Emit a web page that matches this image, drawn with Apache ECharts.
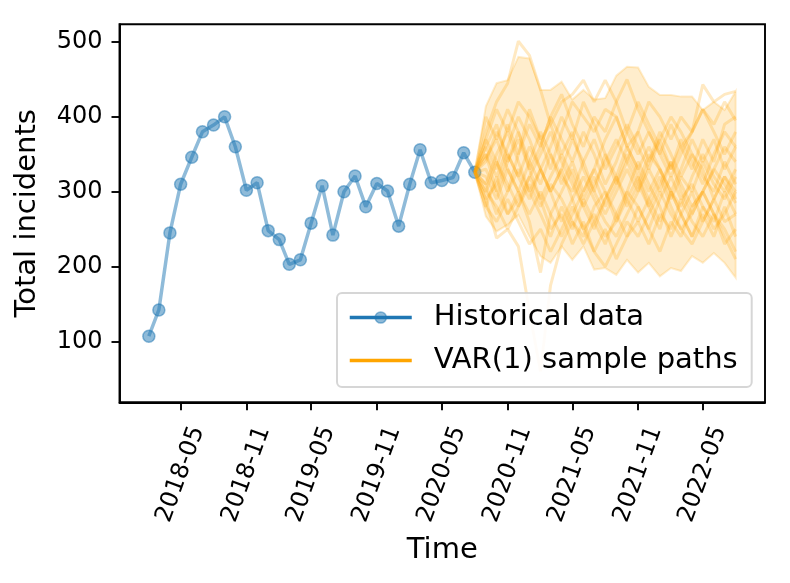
<!DOCTYPE html>
<html>
<head>
<meta charset="utf-8">
<script src="https://cdn.jsdelivr.net/npm/echarts@6/dist/echarts.min.js"></script>
<style>
  html, body { margin: 0; padding: 0; background: #fff; }
  #chart { width: 790px; height: 583px; }
</style>
</head>
<body>
<div id="chart"></div>
<script>
// Monthly incident totals, then VAR(1) simulated paths from the last observed month.

const histMonths = [
  '2018-02', '2018-03', '2018-04', '2018-05', '2018-06', '2018-07', '2018-08', '2018-09',
  '2018-10', '2018-11', '2018-12', '2019-01', '2019-02', '2019-03', '2019-04', '2019-05',
  '2019-06', '2019-07', '2019-08', '2019-09', '2019-10', '2019-11', '2019-12', '2020-01',
  '2020-02', '2020-03', '2020-04', '2020-05', '2020-06', '2020-07', '2020-08',
];
const histValues = [
  107, 142, 245, 310, 346, 380, 389, 400, 360, 302, 312, 248, 236, 203, 209, 258,
  308, 242, 300, 321, 280, 311, 301, 254, 310, 356, 312, 315, 319, 352, 326,
];

const pathMonths = [
  '2020-08', '2020-09', '2020-10', '2020-11', '2020-12', '2021-01', '2021-02', '2021-03',
  '2021-04', '2021-05', '2021-06', '2021-07', '2021-08', '2021-09', '2021-10', '2021-11',
  '2021-12', '2022-01', '2022-02', '2022-03', '2022-04', '2022-05', '2022-06', '2022-07',
  '2022-08',
];
const bandUpper = [
  326, 414, 445, 449, 480, 478, 436, 436, 447, 423, 436, 423, 425,
  455, 467, 466, 440, 429, 429, 427, 427, 409, 420, 409, 434,
];
const bandLower = [
  326, 267, 247, 256, 269, 240, 214, 205, 227, 209, 227, 196, 198,
  189, 209, 192, 205, 187, 198, 194, 214, 205, 218, 205, 185,
];

const path01 = [326, 380, 420, 445, 501, 482, 436, 390, 350, 380, 330, 300, 350, 320, 280, 310, 350, 330, 290, 320, 300, 340, 310, 290, 320];
const path02 = [326, 290, 238, 250, 227, 140, 60, 175, 230, 260, 240, 280, 300, 260, 290, 320, 280, 250, 300, 270, 240, 280, 260, 300, 270];
const path03 = [326, 360, 330, 390, 350, 410, 370, 330, 380, 420, 400, 380, 410, 400, 360, 380, 340, 370, 330, 360, 380, 443, 420, 430, 434];
const path04 = [326, 300, 340, 310, 280, 320, 290, 250, 270, 230, 260, 220, 250, 210, 240, 260, 230, 270, 250, 290, 260, 240, 270, 230, 250];
const path05 = [326, 350, 300, 340, 380, 330, 360, 400, 370, 340, 380, 350, 310, 340, 380, 420, 390, 360, 330, 370, 340, 310, 350, 380, 360];
const path06 = [326, 280, 320, 270, 300, 260, 192, 270, 300, 330, 290, 320, 280, 310, 350, 320, 290, 260, 300, 280, 320, 350, 320, 300, 330];
const path07 = [326, 400, 370, 410, 380, 340, 310, 350, 320, 300, 340, 370, 330, 360, 390, 360, 330, 370, 400, 380, 350, 320, 300, 340, 310];
const path08 = [326, 310, 270, 300, 330, 300, 270, 240, 280, 250, 290, 260, 230, 270, 300, 280, 250, 220, 260, 240, 280, 300, 270, 250, 220];
const path09 = [326, 370, 340, 300, 350, 390, 360, 400, 430, 390, 360, 400, 380, 420, 450, 410, 380, 350, 390, 360, 330, 370, 340, 390, 400];
const path10 = [326, 340, 380, 350, 320, 290, 330, 300, 260, 290, 320, 290, 260, 240, 270, 300, 330, 300, 340, 310, 280, 300, 330, 360, 340];
const path11 = [326, 290, 310, 350, 320, 360, 330, 300, 330, 370, 340, 300, 270, 300, 330, 300, 340, 380, 350, 320, 350, 330, 290, 320, 290];
const path12 = [326, 360, 390, 340, 370, 330, 290, 320, 350, 320, 280, 250, 290, 320, 290, 260, 290, 320, 280, 250, 270, 300, 270, 240, 210];
const path13 = [326, 330, 300, 270, 290, 320, 350, 380, 340, 310, 280, 310, 340, 370, 340, 310, 280, 310, 340, 300, 270, 300, 330, 310, 285];
const path14 = [326, 310, 350, 380, 340, 300, 330, 360, 400, 370, 420, 390, 350, 310, 340, 380, 420, 400, 370, 400, 380, 410, 380, 350, 380];
const path15 = [326, 350, 320, 360, 400, 370, 330, 300, 330, 290, 250, 270, 240, 260, 300, 340, 310, 280, 240, 270, 300, 260, 290, 320, 300];
const path16 = [326, 300, 280, 250, 280, 310, 280, 310, 290, 260, 230, 260, 290, 320, 360, 330, 300, 330, 300, 270, 240, 270, 240, 280, 240];
const path17 = [326, 345, 370, 330, 300, 340, 380, 350, 310, 340, 300, 330, 370, 400, 360, 330, 360, 330, 300, 330, 370, 340, 370, 330, 360];
const path18 = [326, 320, 290, 330, 300, 270, 300, 270, 240, 270, 300, 330, 300, 270, 240, 280, 250, 290, 320, 290, 310, 280, 250, 270, 300];
const path19 = [326, 370, 410, 380, 420, 400, 370, 390, 420, 430, 449, 420, 449, 420, 380, 350, 380, 350, 320, 350, 380, 410, 390, 420, 395];
const path20 = [326, 280, 260, 290, 260, 230, 250, 220, 250, 280, 250, 220, 200, 230, 260, 240, 270, 300, 270, 250, 230, 260, 290, 260, 270];
const samplePaths = [
  path01, path02, path03, path04, path05, path06, path07, path08, path09, path10,
  path11, path12, path13, path14, path15, path16, path17, path18, path19, path20,
];

const xTickLabels = [
  '2018-05', '2018-11', '2019-05', '2019-11', '2020-05',
  '2020-11', '2021-05', '2021-11', '2022-05',
];
const yTickValues = [100, 200, 300, 400, 500];

const FONT = 'DejaVu Sans';
const DAY = 86400000;

function toTime(month) {
  return Date.UTC(+month.slice(0, 4), +month.slice(5, 7) - 1, 1);
}

function monthLabel(t) {
  const d = new Date(t + 5 * DAY);
  return d.getUTCFullYear() + '-' + String(d.getUTCMonth() + 1).padStart(2, '0');
}

// Same 5% padding matplotlib puts round the data.
const firstT = toTime(histMonths[0]);
const lastT = toTime(pathMonths[pathMonths.length - 1]);
const xPad = (lastT - firstT) * 0.05;
const xTickValues = xTickLabels.map(toTime);

const chart = echarts.init(document.getElementById('chart'));

const pathSeries = samplePaths.map((p) => ({
  type: 'line',
  name: 'VAR(1) sample paths',
  data: pathMonths.map((m, i) => [toTime(m), p[i]]),
  symbol: 'none',
  lineStyle: { color: '#ffa500', width: 3, opacity: 0.24 },
  itemStyle: { color: '#ffa500' },
  silent: true,
  z: 4,
}));

chart.setOption({
  animation: false,
  textStyle: { fontFamily: FONT },
  grid: {
    left: 119.5, right: 25, top: 24.3, bottom: 180.7,
    show: true, borderColor: '#000', borderWidth: 1.9, backgroundColor: 'transparent',
  },
  legend: {
    left: 337, top: 293,
    orient: 'vertical',
    padding: [10, 14, 12, 11],
    itemWidth: 62, itemHeight: 14, itemGap: 14,
    backgroundColor: 'rgba(255,255,255,0.9)',
    borderColor: 'rgba(204,204,204,0.8)', borderWidth: 2, borderRadius: 5,
    textStyle: { fontFamily: FONT, fontSize: 29, color: '#000', lineHeight: 29, padding: [0, 0, 0, 17] },
    data: [
      {
        name: 'Historical data',
        itemStyle: { color: 'rgba(31,119,180,0.5)', borderColor: 'rgba(31,119,180,0.5)', borderWidth: 1.5 },
        lineStyle: { color: '#1f77b4', width: 3.5, opacity: 1 },
      },
      {
        name: 'VAR(1) sample paths',
        itemStyle: { opacity: 0 },
        lineStyle: { color: '#ffa500', width: 3.5, opacity: 1 },
      },
    ],
    z: 10,
  },
  xAxis: {
    type: 'value',
    min: firstT - xPad,
    max: lastT + xPad,
    name: 'Time', nameLocation: 'middle', nameGap: 134,
    nameTextStyle: { fontFamily: FONT, fontSize: 29, color: '#000' },
    axisLine: { lineStyle: { color: '#000', width: 1.9 } },
    axisTick: { customValues: xTickValues, length: 8, lineStyle: { color: '#000', width: 1.9 } },
    axisLabel: {
      customValues: xTickValues,
      formatter: monthLabel,
      rotate: 70, align: 'center', verticalAlign: 'middle', margin: 72,
      fontFamily: FONT, fontSize: 24, color: '#000',
    },
    splitLine: { show: false },
  },
  yAxis: {
    type: 'value',
    min: 18.7, max: 523.6,
    name: 'Total incidents', nameLocation: 'middle', nameGap: 78,
    nameTextStyle: { fontFamily: FONT, fontSize: 29, color: '#000' },
    axisLine: { show: true, lineStyle: { color: '#000', width: 1.9 } },
    axisTick: { show: true, customValues: yTickValues, length: 8, lineStyle: { color: '#000', width: 1.9 } },
    axisLabel: {
      customValues: yTickValues, margin: 17,
      fontFamily: FONT, fontSize: 24, color: '#000',
    },
    splitLine: { show: false },
  },
  series: [
    {
      type: 'line',
      name: 'Historical data',
      data: histMonths.map((m, i) => [toTime(m), histValues[i]]),
      symbol: 'circle', symbolSize: 12,
      lineStyle: { color: 'rgba(31,119,180,0.5)', width: 3.5 },
      itemStyle: { color: 'rgba(31,119,180,0.5)', borderColor: 'rgba(31,119,180,0.5)', borderWidth: 1.5 },
      z: 2,
    },
    {
      type: 'custom',
      name: 'band',
      silent: true,
      z: 3,
      data: pathMonths.map((m, i) => [toTime(m), bandLower[i], bandUpper[i]]),
      encode: { x: 0, y: [1, 2] },
      renderItem: (params, api) => {
        if (params.dataIndex !== 0) return null;
        const upper = pathMonths.map((m, i) => api.coord([toTime(m), bandUpper[i]]));
        const lower = pathMonths.map((m, i) => api.coord([toTime(m), bandLower[i]])).reverse();
        return {
          type: 'polygon',
          shape: { points: upper.concat(lower) },
          style: { fill: 'rgba(255,165,0,0.2)', stroke: 'rgba(255,165,0,0.2)', lineWidth: 2 },
        };
      },
    },
    ...pathSeries,
  ],
});
</script>
</body>
</html>
